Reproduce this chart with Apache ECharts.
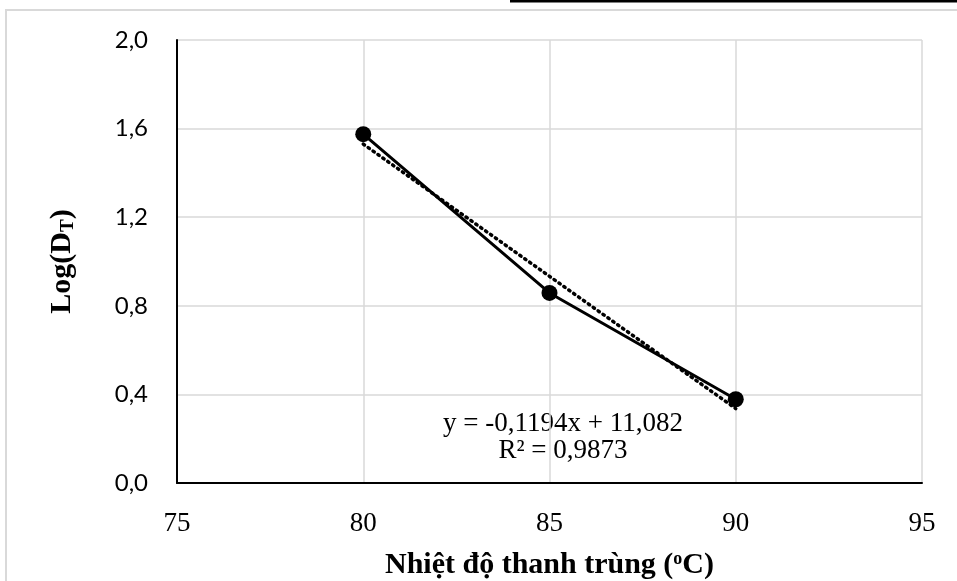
<!DOCTYPE html>
<html><head><meta charset="utf-8">
<script src="https://cdn.jsdelivr.net/npm/echarts@6/dist/echarts.min.js"></script>
<style>html,body{margin:0;padding:0;background:#fff}#c{width:957px;height:581px}</style>
</head><body><div id="c"></div>
<script>
const temps = [80, 85, 90];
const logD = [1.575, 0.858, 0.378];
const trendX = [80, 90];
const trendY = [1.530, 0.336];
const xTicks = [75, 80, 85, 90, 95];
const yTicks = ['0,0', '0,4', '0,8', '1,2', '1,6', '2,0'];
const eqText = 'y = -0,1194x + 11,082';
const r2Text = 'R² = 0,9873';

const chart = echarts.init(document.getElementById('c'));
chart.setOption({
  animation: false,
  grid: {left: 177, right: 35, top: 40, bottom: 98, containLabel: false, outerBoundsMode: 'none'},
  xAxis: {
    type: 'value', min: 75, max: 95, interval: 5,
    axisLine: {lineStyle: {color: '#000', width: 2}},
    axisTick: {show: false},
    splitLine: {show: true, lineStyle: {color: '#d9d9d9', width: 1.5}},
    axisLabel: {color: '#000', fontFamily: 'Liberation Serif', fontSize: 27, margin: 27,
      formatter: v => String(xTicks[Math.round((v - 75) / 5)])},
    name: '{b|Nhiệt độ thanh trùng (}{s|o}{b|C)}',
    nameLocation: 'middle', nameGap: 67,
    nameTextStyle: {rich: {
      b: {fontFamily: 'Liberation Serif', fontWeight: 'bold', fontSize: 30, color: '#000'},
      s: {fontFamily: 'Liberation Serif', fontWeight: 'bold', fontSize: 18, color: '#000', verticalAlign: 'top', padding: [0,0,12,0]}
    }}
  },
  yAxis: {
    type: 'value', min: 0, max: 2, interval: 0.4,
    axisLine: {show: true, lineStyle: {color: '#000', width: 2}},
    axisTick: {show: false},
    splitLine: {show: true, lineStyle: {color: '#d9d9d9', width: 1.5}},
    axisLabel: {color: '#000', fontFamily: 'Lato', fontSize: 24, margin: 29,
      formatter: v => yTicks[Math.round(v / 0.4)]},
    name: '{b|Log(D}{s|T}{b|)}',
    nameLocation: 'middle', nameGap: 99, nameRotate: 90,
    nameTextStyle: {rich: {
      b: {fontFamily: 'Liberation Serif', fontWeight: 'bold', fontSize: 30, color: '#000'},
      s: {fontFamily: 'Liberation Serif', fontWeight: 'bold', fontSize: 19, color: '#000', verticalAlign: 'bottom', padding: [12,0,0,0]}
    }}
  },
  series: [
    {
      type: 'line', data: trendX.map((x, i) => [x, trendY[i]]),
      symbol: 'none', lineStyle: {color: '#000', width: 3.5, type: [1.5, 4.5], cap: 'round'}, z: 2
    },
    {
      type: 'line', data: temps.map((x, i) => [x, logD[i]]),
      symbol: 'circle', symbolSize: 16,
      itemStyle: {color: '#000'}, lineStyle: {color: '#000', width: 3}, z: 3
    }
  ],
  graphic: [
    {type: 'rect', shape: {x: 6, y: 10, width: 1000, height: 600}, style: {fill: 'none', stroke: '#d9d9d9', lineWidth: 2}, z: -1},
    {type: 'rect', shape: {x: 510, y: 0, width: 447, height: 2.5}, style: {fill: '#000'}},
    {type: 'text', x: 563, y: 424, style: {text: eqText, fill: '#000', font: '27px "Liberation Serif"', align: 'center', verticalAlign: 'middle'}},
    {type: 'text', x: 563, y: 451, style: {text: r2Text, fill: '#000', font: '27px "Liberation Serif"', align: 'center', verticalAlign: 'middle'}}
  ]
});
</script></body></html>
